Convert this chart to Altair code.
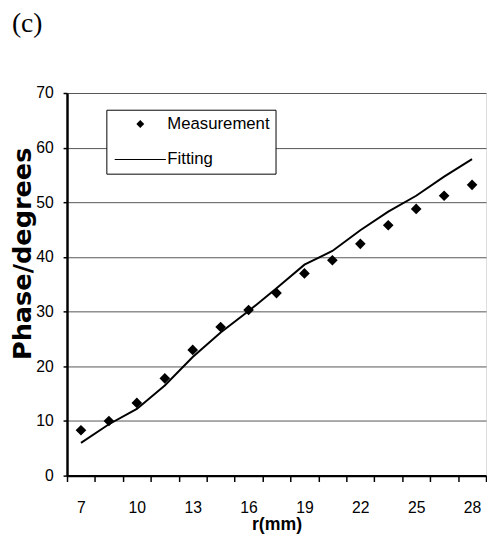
import altair as alt
import pandas as pd

r_labels = ["7", "8.5", "10", "11.5", "13", "14.5", "16", "17.5", "19", "20.5",
            "22", "23.5", "25", "26.5", "28"]
measurement = [8.3, 10.0, 13.3, 17.8, 23.0, 27.2, 30.3, 33.4, 37.0, 39.4,
               42.4, 45.8, 48.8, 51.2, 53.2]
fitting = [6.0, 9.4, 12.2, 16.5, 21.7, 26.2, 30.1, 34.3, 38.6, 41.1,
           44.9, 48.3, 51.2, 54.7, 57.9]
shown_labels = ["7", "10", "13", "16", "19", "22", "25", "28"]
y_ticks = [0, 10, 20, 30, 40, 50, 60, 70]
series = ["Measurement", "Fitting"]

df_m = pd.DataFrame({"r": r_labels, "phase": measurement, "series": "Measurement"})
df_f = pd.DataFrame({"r": r_labels, "phase": fitting, "series": "Fitting"})

label_expr = "indexof(" + str(shown_labels).replace('"', "'") + ", datum.label) >= 0 ? datum.label : ''"

x_enc = alt.X(
    "r:O", sort=r_labels,
    scale=alt.Scale(paddingInner=0, paddingOuter=0),
    axis=alt.Axis(
        title="r(mm)", labelAngle=0, labelExpr=label_expr, tickBand="extent",
        tickSize=6, tickColor="black", tickWidth=1.5,
        domainColor="black", domainWidth=2.5,
        labelFont="Liberation Sans", labelFontSize=16, labelColor="black",
        labelPadding=19, labelBaseline="top",
        titleFont="Liberation Sans", titleFontSize=18, titleFontWeight="bold",
        titleColor="black", titleBaseline="alphabetic", titleY=55,
        grid=False,
    ),
)
y_enc = alt.Y(
    "phase:Q",
    scale=alt.Scale(domain=[0, 70], nice=False, zero=True),
    axis=alt.Axis(
        title="Phase/degrees", values=y_ticks,
        tickSize=4, tickColor="black", tickWidth=1.5,
        domainColor="black", domainWidth=2.5,
        labelFont="Liberation Sans", labelFontSize=16, labelColor="black",
        labelPadding=10,
        titleFont="DejaVu Sans", titleFontSize=26, titleFontWeight="bold",
        titleColor="black", titleAngle=270, titleAlign="center",
        titleBaseline="alphabetic", titleX=-37, titleY=163,
        grid=True, gridColor="#555555", gridWidth=1,
    ),
)

line = alt.Chart(df_f).mark_line(color="black", strokeWidth=2).encode(
    x=x_enc, y=y_enc
)

points = alt.Chart(df_m).mark_point(
    filled=False, fill="black", stroke="black", strokeWidth=2,
    size=64, opacity=1, fillOpacity=1,
).encode(
    x=x_enc, y=y_enc,
    shape=alt.Shape(
        "series:N",
        scale=alt.Scale(domain=series,
                        range=["diamond", "M-6.5,-0.12L6.5,-0.12L6.5,0.12L-6.5,0.12Z"]),
        legend=alt.Legend(
            title=None, orient="none", legendX=40, legendY=17,
            fillColor="white", strokeColor="black", padding=6,
            symbolSize=64, symbolOffset=20, labelOffset=19,
            labelFont="Liberation Sans", labelFontSize=17, labelColor="black",
            rowPadding=18,
            symbolFillColor="black", symbolStrokeColor="black", symbolStrokeWidth=2,
            symbolOpacity=1,
        ),
    ),
)

chart = alt.layer(line, points).properties(
    width=426, height=389,
    autosize=alt.AutoSizeParams(type="none"),
    padding={"left": 60, "top": 82, "right": 1, "bottom": 60},
    title=alt.TitleParams(
        "(c)", anchor="start", frame="group", dx=-56, offset=26,
        baseline="alphabetic", font="Liberation Serif", fontSize=28,
        fontWeight="normal", color="black",
    ),
).configure_view(stroke="black", strokeWidth=2).configure(background="white")

chart.save("out.html", embed_options={"renderer": "svg", "actions": False})
